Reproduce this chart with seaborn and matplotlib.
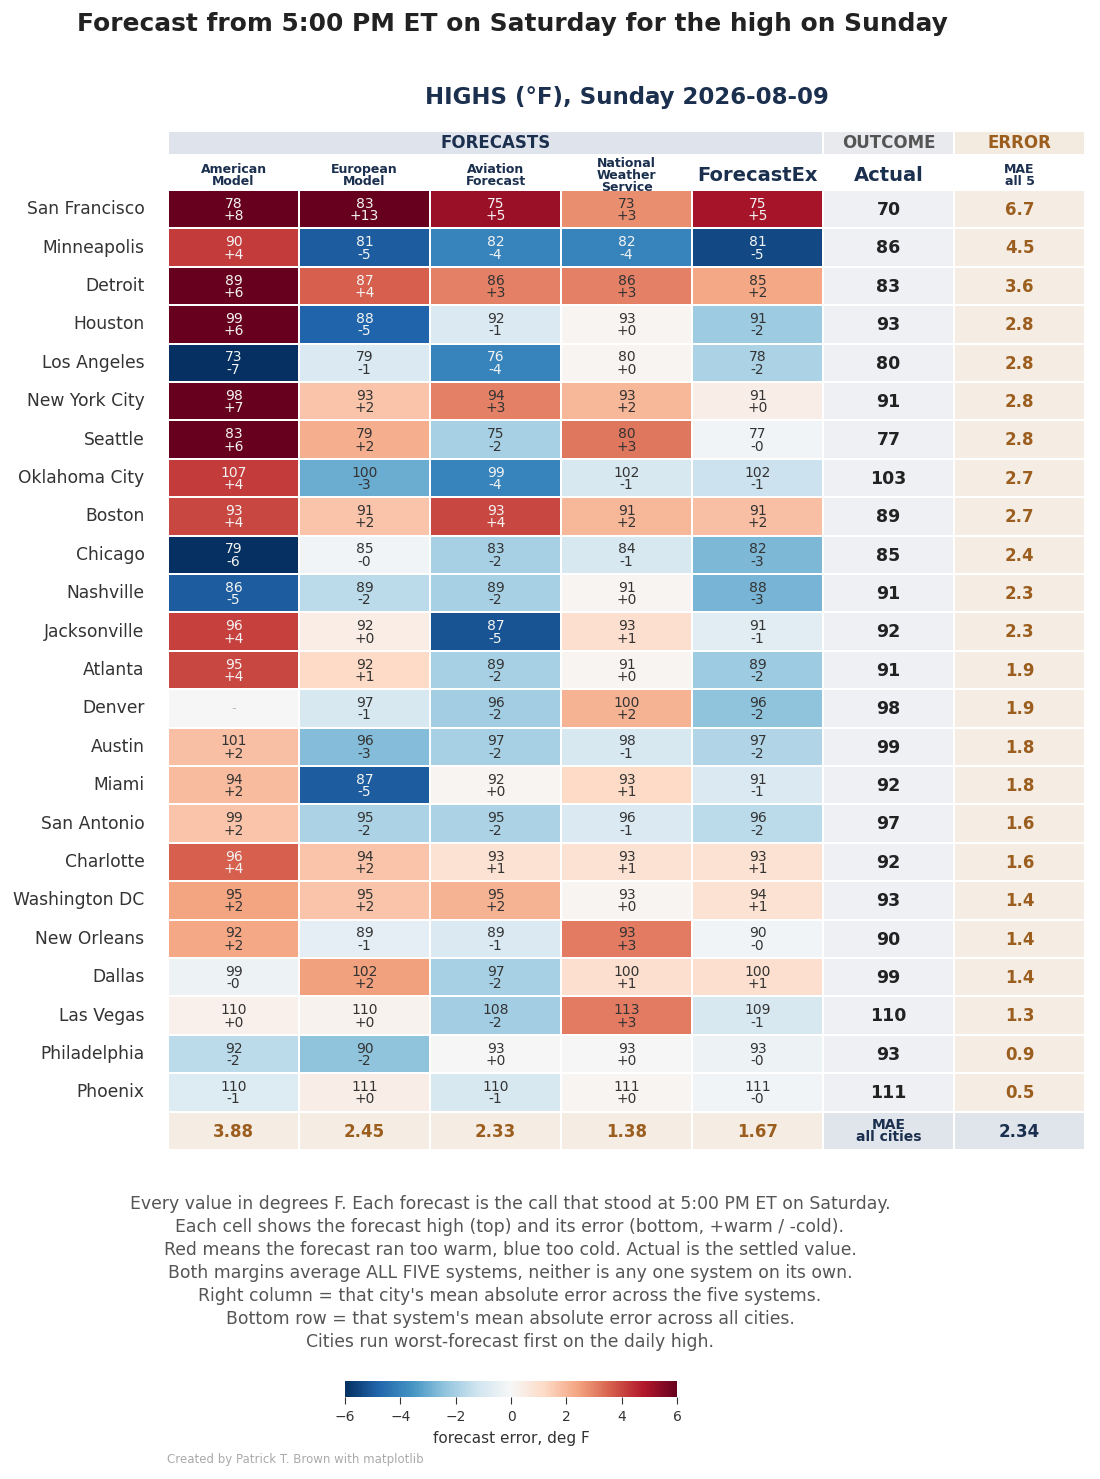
import numpy as np
import pandas as pd
import seaborn as sns
import matplotlib.pyplot as plt
from matplotlib.colors import ListedColormap
from matplotlib.patches import Rectangle

nan = np.nan

cities = ["San Francisco", "Minneapolis", "Detroit", "Houston", "Los Angeles",
          "New York City", "Seattle", "Oklahoma City", "Boston", "Chicago",
          "Nashville", "Jacksonville", "Atlanta", "Denver", "Austin", "Miami",
          "San Antonio", "Charlotte", "Washington DC", "New Orleans", "Dallas",
          "Las Vegas", "Philadelphia", "Phoenix"]
systems = ["American\nModel", "European\nModel", "Aviation\nForecast",
           "National\nWeather\nService", "ForecastEx"]

# forecast highs (deg F) as shown in each cell
fc_american = [78, 90, 89, 99, 73, 98, 83, 107, 93, 79, 86, 96, 95, nan, 101, 94, 99, 96, 95, 92, 99, 110, 92, 110]
fc_european = [83, 81, 87, 88, 79, 93, 79, 100, 91, 85, 89, 92, 92, 97, 96, 87, 95, 94, 95, 89, 102, 110, 90, 111]
fc_aviation = [75, 82, 86, 92, 76, 94, 75, 99, 93, 83, 89, 87, 89, 96, 97, 92, 95, 93, 95, 89, 97, 108, 93, 110]
fc_nws = [73, 82, 86, 93, 80, 93, 80, 102, 91, 84, 91, 93, 91, 100, 98, 93, 96, 93, 93, 93, 100, 113, 93, 111]
fc_forecastex = [75, 81, 85, 91, 78, 91, 77, 102, 91, 82, 88, 91, 89, 96, 97, 91, 96, 93, 94, 90, 100, 109, 93, 111]

# forecast errors (forecast - actual)
err_american = [7.8, 4.2, 6.0, 6.2, -7.2, 7.0, 6.4, 4.2, 4.0, -6.1, -5.0, 4.1, 4.0, nan, 1.8, 1.9, 1.7, 3.6, 2.4, 2.3, -0.3, 0.3, -1.6, -0.8]
err_european = [12.8, -5.0, 3.6, -4.8, -0.9, 1.7, 2.2, -3.0, 1.7, -0.2, -1.6, 0.45, 1.2, -1.0, -2.6, -5.0, -1.9, 1.7, 1.7, -0.6, 2.45, 0.2, -2.4, 0.4]
err_aviation = [5.2, -4.0, 3.0, -0.9, -4.0, 3.0, -2.0, -4.0, 4.0, -2.0, -2.0, -5.2, -2.0, -2.1, -2.0, 0.1, -1.9, 0.9, 2.1, -0.9, -2.0, -2.1, 0.0, -1.0]
err_nws = [2.8, -4.0, 3.0, 0.1, 0.1, 2.0, 3.2, -1.0, 2.0, -1.0, 0.1, 1.0, 0.1, 2.1, -1.0, 1.2, -0.9, 0.9, 0.1, 3.1, 1.0, 3.1, 0.0, 0.1]
err_forecastex = [5.0, -5.4, 2.3, -2.2, -1.9, 0.4, -0.2, -1.3, 1.8, -2.7, -2.8, -0.7, -2.2, -2.4, -1.8, -0.9, -1.6, 0.9, 0.9, -0.2, 1.0, -1.0, -0.3, -0.2]

actual = [70, 86, 83, 93, 80, 91, 77, 103, 89, 85, 91, 92, 91, 98, 99, 92, 97, 92, 93, 90, 99, 110, 93, 111]
mae_city = [6.7, 4.5, 3.6, 2.8, 2.8, 2.8, 2.8, 2.7, 2.7, 2.4, 2.3, 2.3, 1.9, 1.9, 1.8, 1.8, 1.6, 1.6, 1.4, 1.4, 1.4, 1.3, 0.9, 0.5]
mae_system = [3.88, 2.45, 2.33, 1.38, 1.67]
mae_all = 2.34

NAVY = "#1b2f4e"
BROWN = "#9c5e1f"
DARK = "#333333"

fc = np.array([fc_american, fc_european, fc_aviation, fc_nws, fc_forecastex]).T
err = np.array([err_american, err_european, err_aviation, err_nws, err_forecastex]).T
n_rows = len(cities) + 1
n_cols = len(systems) + 2

# colour grid for the forecast cells (missing forecast drawn as zero error)
grid = np.full((n_rows, n_cols), np.nan)
grid[:len(cities), :len(systems)] = np.nan_to_num(err, nan=0.0)
col_names = ["c%d" % i for i in range(n_cols)]
df_err = pd.DataFrame(grid, columns=col_names)

# background categories for the margin cells
cat = np.full((n_rows, n_cols), np.nan)
cat[:len(cities), 5] = 0
cat[:len(cities), 6] = 1
cat[len(cities), :5] = 1
cat[len(cities), 5:] = 2
df_cat = pd.DataFrame(cat, columns=col_names)

fig = plt.figure(figsize=(11, 14.79), dpi=100)
ax = fig.add_axes([0.15273, 0.22245, 0.83364, 0.64909])
cax = fig.add_axes([0.3136, 0.0554, 0.302, 0.0108])

sns.heatmap(df_err, mask=df_err.isna(), cmap="RdBu_r", vmin=-6, vmax=6,
            linewidths=1.1, linecolor="white", ax=ax, cbar_ax=cax,
            cbar_kws={"orientation": "horizontal"},
            xticklabels=False, yticklabels=cities + [""])
sns.heatmap(df_cat, mask=df_cat.isna(),
            cmap=ListedColormap(["#eef0f4", "#f5ede3", "#e0e4eb"]),
            vmin=-0.5, vmax=2.5, linewidths=1.1, linecolor="white",
            ax=ax, cbar=False, xticklabels=False, yticklabels=cities + [""])

ax.tick_params(axis="y", length=0, pad=17, labelsize=12.3, labelcolor=DARK)
ax.tick_params(axis="x", length=0)
plt.setp(ax.get_yticklabels(), rotation=0)

# cell texts
for r in range(len(cities)):
    for c in range(len(systems)):
        e = err[r, c]
        if np.isnan(e):
            ax.text(c + 0.5, r + 0.5, "-", ha="center", va="center",
                    fontsize=9.5, color="#bbbbbb")
            continue
        col = "#f4f4f4" if abs(e) > 3.4 else DARK
        ax.text(c + 0.5, r + 0.52, "%d\n%+.0f" % (fc[r, c], e),
                ha="center", va="center", fontsize=10, color=col,
                linespacing=0.85)
    ax.text(5.5, r + 0.52, str(actual[r]), ha="center", va="center",
            fontsize=12.5, fontweight="bold", color="#222222")
    ax.text(6.5, r + 0.52, "%.1f" % mae_city[r], ha="center", va="center",
            fontsize=12, fontweight="bold", color=BROWN)

last = len(cities)
for c, v in enumerate(mae_system):
    ax.text(c + 0.5, last + 0.52, "%.2f" % v, ha="center", va="center",
            fontsize=12, fontweight="bold", color=BROWN)
ax.text(5.5, last + 0.5, "MAE\nall cities", ha="center", va="center",
        fontsize=10, fontweight="bold", color=NAVY, linespacing=0.85)
ax.text(6.5, last + 0.52, "%.2f" % mae_all, ha="center", va="center",
        fontsize=12, fontweight="bold", color=NAVY)

# column headers
for c, name in enumerate(systems):
    big = name == "ForecastEx"
    ax.text(c + 0.5, -0.37, name, ha="center", va="center",
            fontsize=14 if big else 9, fontweight="bold", color=NAVY,
            linespacing=0.9, clip_on=False)
ax.text(5.5, -0.37, "Actual", ha="center", va="center", fontsize=14,
        fontweight="bold", color=NAVY, clip_on=False)
ax.text(6.5, -0.37, "MAE\nall 5", ha="center", va="center", fontsize=9,
        fontweight="bold", color=NAVY, linespacing=0.9, clip_on=False)

# group bands
bands = [(0.0, 5.0, "FORECASTS", "#dfe4ec", NAVY),
         (5.0, 6.0, "OUTCOME", "#e8eaee", "#555555"),
         (6.0, 7.0, "ERROR", "#f3ebe0", BROWN)]
for x0, x1, label, face, tc in bands:
    ax.add_patch(Rectangle((x0 + 0.008, -1.51), x1 - x0 - 0.016, 0.57,
                           facecolor=face, edgecolor="none", clip_on=False))
    ax.text((x0 + x1) / 2, -1.22, label, ha="center", va="center",
            fontsize=12, fontweight="bold", color=tc, clip_on=False)

ax.text(3.5, -2.42, "HIGHS (\u00b0F), Sunday 2026-08-09", ha="center",
        va="center", fontsize=16.5, fontweight="bold", color=NAVY,
        clip_on=False)

fig.text(0.07, 1 - 24 / 1479, "Forecast from 5:00 PM ET on Saturday for the high on Sunday",
         ha="left", va="center", fontsize=17.9, fontweight="bold", color="#222222")

notes = ("Every value in degrees F. Each forecast is the call that stood at 5:00 PM ET on Saturday.\n"
         "Each cell shows the forecast high (top) and its error (bottom, +warm / -cold).\n"
         "Red means the forecast ran too warm, blue too cold. Actual is the settled value.\n"
         "Both margins average ALL FIVE systems, neither is any one system on its own.\n"
         "Right column = that city's mean absolute error across the five systems.\n"
         "Bottom row = that system's mean absolute error across all cities.\n"
         "Cities run worst-forecast first on the daily high.")
fig.text(0.4636, 1 - 1195 / 1479, notes, ha="center", va="top", fontsize=12.4,
         color="#555555", linespacing=1.36)

cb = ax.collections[0].colorbar
cb.set_ticks([-6, -4, -2, 0, 2, 4, 6])
cb.ax.tick_params(labelsize=10, labelcolor=DARK, length=5, color=DARK, pad=4)
cb.set_label("forecast error, deg F", fontsize=11, color=DARK, labelpad=5)
cb.outline.set_edgecolor("#888888")

fig.text(167 / 1100, 1 - 1459 / 1479, "Created by Patrick T. Brown with matplotlib",
         ha="left", va="center", fontsize=8.5, color="#aaaaaa")

fig.savefig("out.png", dpi=100)
